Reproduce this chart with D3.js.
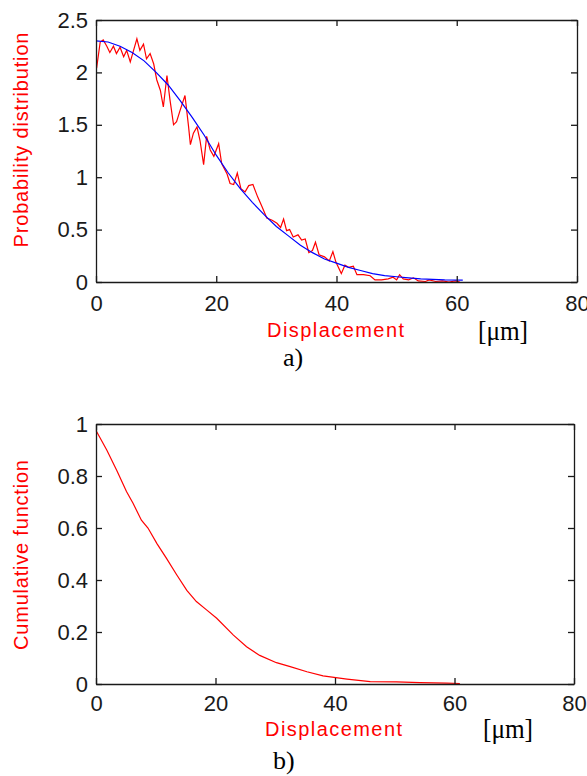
<!DOCTYPE html>
<html>
<head>
  <meta charset="utf-8">
  <title>Displacement - probability distribution and cumulative function</title>
  <script src="https://d3js.org/d3.v7.min.js"></script>
  <style>
    body { margin: 0; background: #fff; }
  </style>
</head>
<body>
  <div id="chart"></div>

  <script>
    // a) measured probability distribution (red) and fitted curve (blue)
    var probX = [0.1, 0.7, 1.2, 1.8, 2.3, 2.9, 3.4, 4.0, 4.6, 5.1, 5.7, 6.2, 6.8, 7.3, 7.9, 8.4, 9.0, 9.6,
                 10.1, 10.7, 11.2, 11.8, 12.3, 12.9, 13.4, 14.0, 14.8, 15.4, 15.7, 16.2, 16.8, 17.3, 17.9,
                 18.4, 19.0, 19.6, 20.4, 20.9, 21.8, 22.3, 22.9, 23.5, 24.1, 24.8, 25.4, 26.1, 26.9, 27.6,
                 28.4, 29.3, 30.1, 30.7, 31.2, 31.7, 32.2, 32.8, 33.6, 34.2, 34.8, 35.4, 36.0, 36.5, 37.1,
                 38.0, 38.8, 39.4, 39.9, 40.8, 41.4, 42.0, 42.8, 43.4, 44.5, 45.6, 46.4, 47.5, 48.6, 49.4,
                 50.0, 50.5, 51.1, 52.0, 52.8, 53.6, 54.8, 55.4, 56.5, 57.6, 58.7, 59.8, 60.5];
    var probY = [2.04, 2.29, 2.31, 2.25, 2.19, 2.25, 2.18, 2.24, 2.15, 2.21, 2.10, 2.20, 2.32, 2.21, 2.27, 2.13, 2.18, 2.08,
                 1.93, 1.83, 1.67, 1.97, 1.74, 1.50, 1.53, 1.64, 1.78, 1.48, 1.31, 1.42, 1.48, 1.35, 1.12,
                 1.39, 1.26, 1.20, 1.32, 1.13, 1.03, 0.94, 0.93, 1.04, 0.89, 0.86, 0.92, 0.93, 0.81, 0.72,
                 0.61, 0.59, 0.56, 0.52, 0.60, 0.49, 0.50, 0.43, 0.45, 0.40, 0.41, 0.28, 0.30, 0.38, 0.26,
                 0.24, 0.20, 0.29, 0.19, 0.08, 0.16, 0.14, 0.15, 0.07, 0.07, 0.06, 0.02, 0.02, 0.03, 0.045,
                 0.02, 0.07, 0.03, 0.02, 0.04, 0.01, 0.005, 0.02, 0.005, 0.01, 0, 0.01, 0];
    var fitX = [0, 2, 4, 6, 8, 10, 12, 14, 16, 18, 20, 22, 24, 26, 28, 30, 32, 34, 36, 38, 40,
                42, 44, 46, 48, 50, 52, 54, 56, 58, 61];
    var fitY = [2.30, 2.29, 2.25, 2.19, 2.11, 2.00, 1.88, 1.73, 1.57, 1.40, 1.21, 1.04, 0.89, 0.76, 0.64, 0.53,
                0.44, 0.35, 0.28, 0.22, 0.18, 0.14, 0.11, 0.08, 0.06, 0.05, 0.04, 0.03, 0.025, 0.02, 0.018];

    // b) cumulative function
    var cumX = [0, 1.8, 3.5, 5.1, 6.2, 7.6, 8.7, 10.2, 11.8, 13.5, 15.2, 16.8, 18.5, 20.2, 23, 25.2,
                27.4, 30.2, 32.5, 35.3, 38, 42, 45.9, 50.3, 54.2, 58.7, 60.9];
    var cumY = [0.975, 0.90, 0.82, 0.74, 0.695, 0.63, 0.60, 0.54, 0.483, 0.42, 0.36, 0.317, 0.285, 0.253,
                0.188, 0.143, 0.11, 0.082, 0.067, 0.047, 0.031, 0.019, 0.009, 0.008, 0.005, 0.003, 0.002];

    var xTicks = [0, 20, 40, 60, 80];
    var probTicks = [0, 0.5, 1, 1.5, 2, 2.5];
    var cumTicks = [0, 0.2, 0.4, 0.6, 0.8, 1];

    var sans = "'Liberation Sans', Arial, Helvetica, sans-serif";
    var serif = "'Liberation Serif', 'Times New Roman', serif";

    var svg = d3.select("#chart")
      .append("svg")
      .attr("width", 587)
      .attr("height", 776);

    function zip(xs, ys) {
      return xs.map(function(d, i) { return {x: d, y: ys[i]}; });
    }

    function drawPanel(p) {
      var x = d3.scaleLinear().domain([0, 80]).range([p.left, p.right]);
      var y = d3.scaleLinear().domain([0, p.yMax]).range([p.bottom, p.top]);

      var line = d3.line()
        .x(function(d) { return x(d.x); })
        .y(function(d) { return y(d.y); });

      p.series.forEach(function(s) {
        svg.append("path")
          .datum(s.data)
          .attr("d", line)
          .attr("fill", "none")
          .attr("stroke", s.color)
          .attr("stroke-width", 1.2);
      });

      var axes = [
        svg.append("g").attr("transform", "translate(0," + p.bottom + ")")
          .call(d3.axisBottom(x).tickValues(xTicks).tickSizeInner(-6).tickSizeOuter(0).tickPadding(p.xPad)),
        svg.append("g").attr("transform", "translate(0," + p.top + ")")
          .call(d3.axisTop(x).tickValues(xTicks).tickSizeInner(-6).tickSizeOuter(0).tickFormat("")),
        svg.append("g").attr("transform", "translate(" + p.left + ",0)")
          .call(d3.axisLeft(y).tickValues(p.yTicks).tickSizeInner(-6).tickSizeOuter(0).tickPadding(8).tickFormat(d3.format(""))),
        svg.append("g").attr("transform", "translate(" + p.right + ",0)")
          .call(d3.axisRight(y).tickValues(p.yTicks).tickSizeInner(-6).tickSizeOuter(0).tickFormat(""))
      ];
      axes.forEach(function(a) {
        a.attr("font-family", sans).attr("font-size", 22);
        a.selectAll("path, line").attr("stroke", "#1a1a1a").attr("stroke-width", 1.3);
        a.selectAll("text").attr("fill", "#1a1a1a");
      });

      svg.append("text")
        .attr("x", p.xTitleX)
        .attr("y", p.xTitleY)
        .attr("font-family", sans)
        .attr("font-size", 20)
        .attr("fill", "#ff0000")
        .attr("textLength", 137)
        .attr("lengthAdjust", "spacing")
        .text("Displacement");

      svg.append("text")
        .attr("transform", "translate(28," + p.yTitleY + ") rotate(-90)")
        .attr("text-anchor", "middle")
        .attr("font-family", sans)
        .attr("font-size", 20)
        .attr("fill", "#ff0000")
        .attr("textLength", p.yTitleLen)
        .attr("lengthAdjust", "spacing")
        .text(p.yTitle);

      svg.append("text")
        .attr("x", p.unitX)
        .attr("y", p.unitY)
        .attr("font-family", serif)
        .attr("font-size", 27)
        .attr("fill", "#000")
        .attr("textLength", 50)
        .attr("lengthAdjust", "spacingAndGlyphs")
        .text("[\u03bcm]");

      svg.append("text")
        .attr("x", p.letterX)
        .attr("y", p.letterY)
        .attr("font-family", serif)
        .attr("font-size", 26)
        .attr("fill", "#000")
        .text(p.letter);
    }

    drawPanel({
      left: 96, right: 577, top: 20, bottom: 282,
      yMax: 2.5, yTicks: probTicks, xPad: 13,
      series: [
        {data: zip(probX, probY), color: "#ff0000"},
        {data: zip(fitX, fitY), color: "#0000ff"}
      ],
      xTitleX: 267, xTitleY: 337,
      yTitle: "Probability distribution", yTitleY: 140, yTitleLen: 215,
      unitX: 478, unitY: 340,
      letter: "a)", letterX: 283, letterY: 366
    });

    drawPanel({
      left: 96, right: 574, top: 424, bottom: 684,
      yMax: 1, yTicks: cumTicks, xPad: 11,
      series: [
        {data: zip(cumX, cumY), color: "#ff0000"}
      ],
      xTitleX: 265, xTitleY: 736,
      yTitle: "Cumulative function", yTitleY: 555, yTitleLen: 190,
      unitX: 483, unitY: 738,
      letter: "b)", letterX: 273, letterY: 769
    });
  </script>
</body>
</html>
